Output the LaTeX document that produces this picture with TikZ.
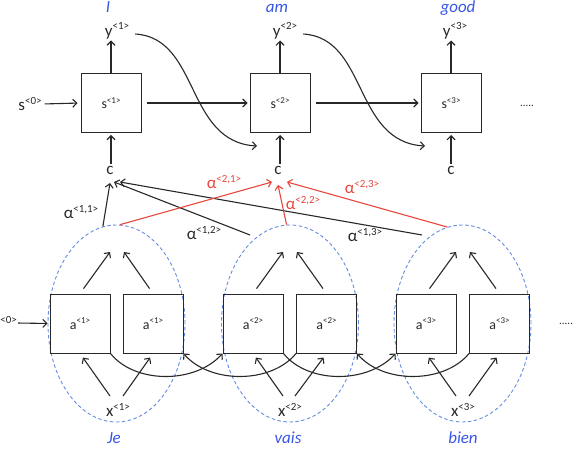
\documentclass[tikz,border=0pt]{standalone}
\usepackage{fontspec}
\setmainfont{Carlito}
\usetikzlibrary{arrows.meta,shapes.geometric,calc}
\definecolor{wblue}{RGB}{55,85,230}
\definecolor{ared}{RGB}{232,70,60}
\definecolor{eblue}{RGB}{100,140,225}
\definecolor{ink}{RGB}{40,40,40}
\newcommand\Spx[1]{\raisebox{0.4em}{\fontsize{11}{11}\selectfont #1}}
\newcommand\Spb[1]{\raisebox{0.4em}{\fontsize{9}{9}\selectfont #1}}
\begin{document}
\begin{tikzpicture}[x=1bp,y=-1bp,
  box/.style={draw=ink, line width=1bp, minimum width=60bp, minimum height=59bp, inner sep=0pt, font=\fontsize{14}{14}\selectfont, text=ink},
  lab/.style={inner sep=1bp, font=\fontsize{17}{17}\selectfont, text=ink},
  rlab/.style={lab, text=ared},
  word/.style={inner sep=0pt, font=\fontsize{17}{17}\selectfont\itshape, text=wblue, anchor=base},
  arr/.style={draw=ink, line width=1.1bp, -{Straight Barb[length=4bp,width=8bp,line width=1.1bp]}},
  rarr/.style={arr, draw=ared},
  ell/.style={ellipse, draw=eblue, dash pattern=on 3.5bp off 2.5bp, line width=0.9bp, minimum width=137bp, minimum height=197bp, inner sep=0pt},
  dots/.style={inner sep=0pt, font=\fontsize{11}{11}\selectfont, text=ink}
]
\useasboundingbox (0,0) rectangle (576,450);
\clip (0,0) rectangle (576,450);

% ---------- decoder (top) ----------
\node[box] (s1) at (111,103) {s\Spb{<1>}};
\node[box] (s2) at (280,103) {s\Spb{<2>}};
\node[box] (s3) at (451,103) {s\Spb{<3>}};

\node[lab] (y1) at (117,31) {y\Spx{<1>}};
\node[lab] (y2) at (285,31) {y\Spx{<2>}};
\node[lab] (y3) at (455,31) {y\Spx{<3>}};

\node[word] (w1) at (108,13) {I};
\node[word] (w2) at (277,13) {am};
\node[word] (w3) at (458,13) {good};

\node[lab] (s0) at (30,104) {s\Spx{<0>}};
\node[dots] (d1) at (527,106) {.....};

\node[lab] (c1) at (110,170) {c};
\node[lab] (c2) at (278,170) {c};
\node[lab] (c3) at (451,170) {c};

\draw[arr] (s1.north) -- (s1.north |- y1.south);
\draw[arr] (s2.north) -- (s2.north |- y2.south);
\draw[arr] (s3.north) -- (s3.north |- y3.south);

\draw[arr, shorten <=2bp, shorten >=3bp] (s0.east) -- (s1.west);
\draw[arr, shorten <=5bp, shorten >=2bp] (s1.east) -- (s2.west);
\draw[arr, shorten <=5bp, shorten >=2bp] (s2.east) -- (s3.west);

\draw[arr, shorten <=1bp, shorten >=2bp] (c1.north -| s1.south) -- (s1.south);
\draw[arr, shorten <=1bp, shorten >=2bp] (c2.north -| s2.south) -- (s2.south);
\draw[arr, shorten <=1bp, shorten >=2bp] (c3.north -| s3.south) -- (s3.south);

\coordinate (k2) at (257,146);
\coordinate (k3) at (425,146);
\draw[arr] ([xshift=5bp,yshift=-3bp]y1.east) .. controls (200,38) and (185,142) .. (k2);
\draw[arr] ([xshift=5bp,yshift=-3bp]y2.east) .. controls (368,38) and (353,142) .. (k3);

% ---------- encoder (bottom) ----------
\node[ell] (e1) at (116.5,323.5) {};
\node[ell] (e2) at (290,323.5) {};
\node[ell] (e3) at (462.5,323.5) {};

\node[box] (a1) at (80,323.5) {a\Spb{<1>}};
\node[box] (a2) at (153,323.5) {a\Spb{<1>}};
\node[box] (a3) at (253,323.5) {a\Spb{<2>}};
\node[box] (a4) at (326.5,323.5) {a\Spb{<2>}};
\node[box] (a5) at (426,323.5) {a\Spb{<3>}};
\node[box] (a6) at (499.5,323.5) {a\Spb{<3>}};

\node[lab, anchor=east, inner sep=0pt] (a0) at (17,323) {a\Spx{<0>}};
\node[dots, anchor=west] (d2) at (559,324) {.....};
\draw[arr, shorten <=1bp, shorten >=2bp] (a0.east) -- (a1.west);

\node[lab] (x1) at (118,410) {x\Spx{<1>}};
\node[lab] (x2) at (290,410) {x\Spx{<2>}};
\node[lab] (x3) at (463,410) {x\Spx{<3>}};

\node[word] (j1) at (114,443) {Je};
\node[word] (j2) at (288,443) {vais};
\node[word] (j3) at (463,443) {bien};

% up arrows inside ellipses
\coordinate (p1) at (110,252); \coordinate (q1) at (124,252);
\coordinate (p2) at (283,252); \coordinate (q2) at (297,252);
\coordinate (p3) at (456,252); \coordinate (q3) at (470,252);
\draw[arr, shorten <=6bp] (a1.north) -- (p1);
\draw[arr, shorten <=6bp] (a2.north) -- (q1);
\draw[arr, shorten <=6bp] (a3.north) -- (p2);
\draw[arr, shorten <=6bp] (a4.north) -- (q2);
\draw[arr, shorten <=6bp] (a5.north) -- (p3);
\draw[arr, shorten <=6bp] (a6.north) -- (q3);

% x arrows
\draw[arr, shorten >=5bp] ([xshift=-8bp,yshift=14bp]x1.center) -- (a1.south);
\draw[arr, shorten >=5bp] ([xshift=5bp,yshift=14bp]x1.center) -- (a2.south);
\draw[arr, shorten >=5bp] ([xshift=-7bp,yshift=14bp]x2.center) -- (a3.south);
\draw[arr, shorten >=5bp] ([xshift=5bp,yshift=14bp]x2.center) -- (a4.south);
\draw[arr, shorten >=5bp] ([xshift=-7bp,yshift=14bp]x3.center) -- (a5.south);
\draw[arr, shorten >=5bp] ([xshift=6bp,yshift=14bp]x3.center) -- (a6.south);

% recurrent connections
\draw[arr] (a1.south east) .. controls (135,384) and (195,384) .. (a3.south west);
\draw[arr] (a4.south west) .. controls (271,384) and (210,384) .. (a2.south east);
\draw[arr] (a3.south east) .. controls (308,384) and (368,384) .. (a5.south west);
\draw[arr] (a6.south west) .. controls (444,384) and (383,384) .. (a4.south east);

% ---------- attention ----------
\coordinate (t11) at ($(c1)+(0,13)$);
\coordinate (t12) at ($(c1)+(4,12)$);
\coordinate (t13) at ($(c1)+(10,12)$);
\coordinate (t21) at ($(c2)+(-6,12)$);
\coordinate (t22) at ($(c2)+(0,15)$);
\coordinate (t23) at ($(c2)+(9,12)$);
\coordinate (b12) at (250,235);
\coordinate (b13) at (422,235);

\draw[arr] (e1.98) -- (t11);
\draw[arr] (b12) -- (t12);
\draw[arr] (b13) -- (t13);
\draw[rarr] (e1.88) -- (t21);
\draw[rarr] (e2.92) -- (t22);
\draw[rarr] (e3.99.5) -- (t23);

\node[lab] (l11) at (81,212) {α\Spx{<1,1>}};
\node[lab] (l12) at (204,233) {α\Spx{<1,2>}};
\node[lab] (l13) at (365,235) {α\Spx{<1,3>}};
\node[rlab] (l21) at (224,182) {α\Spx{<2,1>}};
\node[rlab] (l22) at (303,203) {α\Spx{<2,2>}};
\node[rlab] (l23) at (362,187) {α\Spx{<2,3>}};
\end{tikzpicture}
\end{document}
